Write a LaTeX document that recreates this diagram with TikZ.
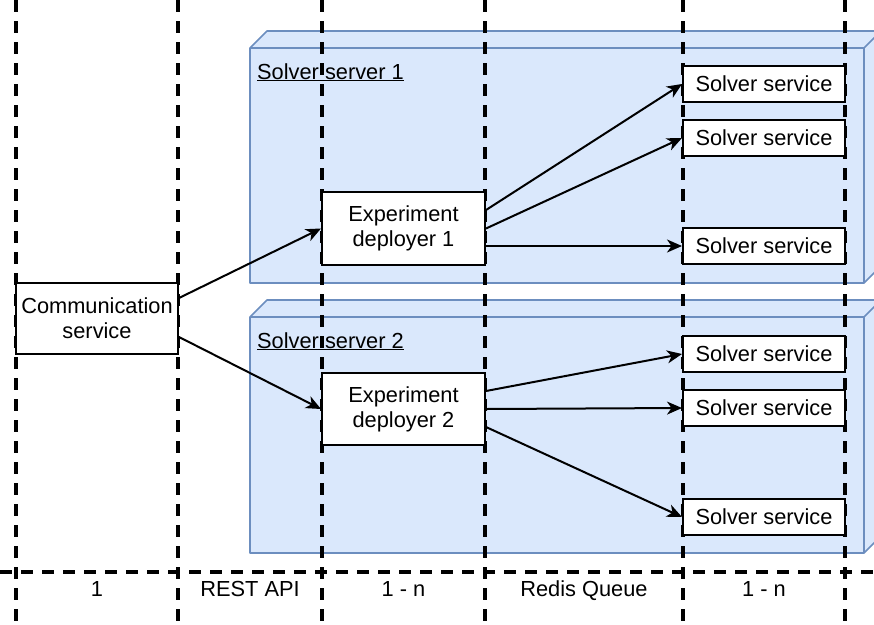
\documentclass[tikz,border=0pt]{standalone}
\usepackage{fontspec}
\setmainfont{Liberation Sans}
\usetikzlibrary{arrows.meta}
\definecolor{boxfill}{HTML}{DAE8FC}
\definecolor{boxline}{HTML}{6C8EBF}
\tikzset{
  lane/.style={line width=3.4pt, dash pattern=on 12pt off 9pt},
  svc/.style={draw=black, fill=white, line width=2pt, minimum width=162pt, minimum height=36pt, inner sep=0pt, font=\fontsize{21.8}{24}\selectfont},
  bigsvc/.style={draw=black, fill=white, line width=2pt, minimum width=163pt, inner sep=0pt, align=center, font=\fontsize{21.8}{25}\selectfont},
  conn/.style={line width=2pt, -{Stealth[length=15pt,width=13pt,inset=4.5pt]}},
  lbl/.style={font=\fontsize{21.8}{24}\selectfont},
  cube/.style={fill=boxfill, draw=boxline, line width=1.6pt, line join=round}
}
\begin{document}
\begin{tikzpicture}[x=1pt,y=-1pt]
\useasboundingbox (0,0) rectangle (874,624);
\begin{scope}
\clip (0,0) rectangle (874,624);
% cube 1
\draw[cube] (250,48) -- (267,31) -- (881,31) -- (881,266) -- (864,283) -- (250,283) -- cycle;
\draw[cube, fill=none] (250,48) -- (864,48) -- (881,31) (864,48) -- (864,283);
% cube 2
\draw[cube] (250,317) -- (267,300) -- (881,300) -- (881,536) -- (864,553) -- (250,553) -- cycle;
\draw[cube, fill=none] (250,317) -- (864,317) -- (881,300) (864,317) -- (864,553);
\end{scope}
\node[lbl, anchor=base west, inner sep=0pt] (s1) at (257,79) {\underline{Solver server 1}};
\node[lbl, anchor=base west, inner sep=0pt] (s2) at (257,348) {\underline{Solver server 2}};
% lanes
\foreach \x/\n in {16/a,178/b,322/c,485/d,683/e,845/f}{
  \coordinate (t\n) at (\x,0);
  \coordinate (b\n) at (\x,624);
  \draw[lane] (t\n) -- (b\n);
}
\coordinate (hl) at (0,572);
\coordinate (hr) at (874,572);
\draw[lane] (hl) -- (hr);
% bottom labels
\node[lbl, anchor=base] (l1) at (97,596) {1};
\node[lbl, anchor=base] (l2) at (250,596) {REST API};
\node[lbl, anchor=base] (l3) at (403.5,596) {1 - n};
\node[lbl, anchor=base] (l4) at (584,596) {Redis Queue};
\node[lbl, anchor=base] (l5) at (764,596) {1 - n};
% nodes
\node[bigsvc, minimum height=71pt, minimum width=162pt] (comm) at (97,318.5) {Communication\\service};
\node[bigsvc, minimum height=73pt] (exp1) at (403.5,228.5) {Experiment\\deployer 1};
\node[bigsvc, minimum height=72pt] (exp2) at (403.5,409) {Experiment\\deployer 2};
\node[svc] (ss1) at (764,84) {Solver service};
\node[svc] (ss2) at (764,138) {Solver service};
\node[svc] (ss3) at (764,246) {Solver service};
\node[svc] (ss4) at (764,354) {Solver service};
\node[svc] (ss5) at (764,408) {Solver service};
\node[svc] (ss6) at (764,517) {Solver service};
% connectors
\draw[conn] ([yshift=20.5pt]comm.east) -- (exp1.west);
\draw[conn] ([yshift=-18.5pt]comm.east) -- (exp2.west);
\draw[conn] ([yshift=18.5pt]exp1.east) -- (ss1.west);
\draw[conn] (exp1.east) -- (ss2.west);
\draw[conn] ([yshift=-17.5pt]exp1.east) -- (ss3.west);
\draw[conn] ([yshift=18pt]exp2.east) -- (ss4.west);
\draw[conn] (exp2.east) -- (ss5.west);
\draw[conn] ([yshift=-18pt]exp2.east) -- (ss6.west);
\end{tikzpicture}
\end{document}
